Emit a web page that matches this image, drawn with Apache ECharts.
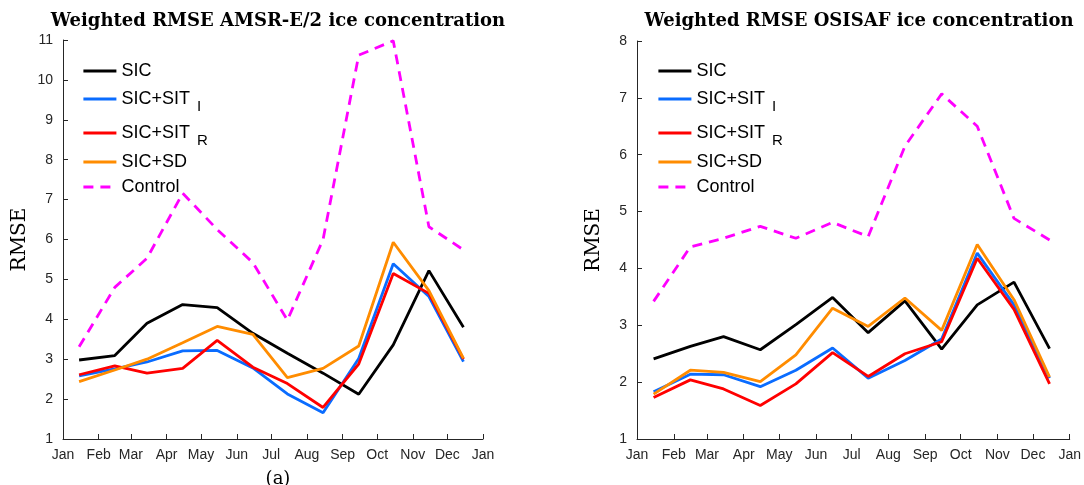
<!DOCTYPE html>
<html>
<head>
<meta charset="utf-8">
<script src="https://cdn.jsdelivr.net/npm/echarts@6/dist/echarts.min.js"></script>
<style>
html,body{margin:0;padding:0;background:#fff;}
#chart{width:1084px;height:485px;}
</style>
</head>
<body>
<div id="chart"></div>
<script>
// Tick labels (month starts) and their day-of-year positions
const monthLabels = ['Jan','Feb','Mar','Apr','May','Jun','Jul','Aug','Sep','Oct','Nov','Dec','Jan'];
const monthStartDays = [0,31,59,90,120,151,181,212,243,273,304,334,365];
// Samples: 15th of each month (day of year)
const sampleDays = [14,45,73,104,134,165,195,226,257,287,318,348];

const seriesNames = ['SIC','SIC+SIT_I','SIC+SIT_R','SIC+SD','Control'];

// Panel (a): AMSR-E/2
const amsrSIC     = [2.98, 3.09, 3.90, 4.37, 4.29, 3.65, 3.15, 2.65, 2.12, 3.36, 5.22, 3.80];
const amsrSIT_I   = [2.58, 2.76, 2.93, 3.21, 3.22, 2.78, 2.13, 1.66, 3.02, 5.39, 4.57, 2.94];
const amsrSIT_R   = [2.61, 2.83, 2.65, 2.77, 3.47, 2.80, 2.39, 1.79, 2.88, 5.15, 4.65, 3.00];
const amsrSD      = [2.44, 2.73, 3.00, 3.41, 3.82, 3.62, 2.54, 2.77, 3.33, 5.93, 4.72, 3.02];
const amsrControl = [3.31, 4.80, 5.53, 7.16, 6.25, 5.42, 3.98, 6.00, 10.62, 10.98, 6.32, 5.74];

// Panel (b): OSISAF
const osiSIC     = [2.41, 2.63, 2.80, 2.57, 3.01, 3.49, 2.87, 3.43, 2.58, 3.36, 3.76, 2.59];
const osiSIT_I   = [1.83, 2.14, 2.13, 1.92, 2.21, 2.60, 2.07, 2.38, 2.76, 4.27, 3.36, 2.07];
const osiSIT_R   = [1.73, 2.04, 1.88, 1.59, 1.97, 2.52, 2.10, 2.50, 2.71, 4.18, 3.28, 1.97];
const osiSD      = [1.79, 2.21, 2.17, 2.01, 2.48, 3.30, 2.98, 3.48, 2.91, 4.42, 3.45, 2.09];
const osiControl = [3.42, 4.38, 4.53, 4.74, 4.53, 4.81, 4.56, 6.15, 7.07, 6.50, 4.88, 4.50];

const titles = ['Weighted RMSE AMSR-E/2 ice concentration', 'Weighted RMSE OSISAF ice concentration'];
const yMax = [11, 8];

const colors = ['#000000', '#0a6cff', '#ff0000', '#ff8c00', '#ff00ff'];
const AX = '#262626';
const sansFont = '"Liberation Sans", Arial, sans-serif';
const serifFont = '"DejaVu Serif", serif';

const panels = [
  [amsrSIC, amsrSIT_I, amsrSIT_R, amsrSD, amsrControl],
  [osiSIC, osiSIT_I, osiSIT_R, osiSD, osiControl]
];

const grids = [
  {left: 63, right: 601, top: 40, bottom: 46},
  {left: 637, right: 12, top: 41, bottom: 46}
];

function pair(vals){ return vals.map((v,i)=>[sampleDays[i], v]); }

const xAxes = grids.map((g,i)=>({
  type:'value', gridIndex:i, min:0, max:365,
  axisLine:{show:true, lineStyle:{color:AX, width:1}},
  axisTick:{show:true, inside:true, length:5, lineStyle:{color:AX}, customValues: monthStartDays},
  axisLabel:{color:AX, fontSize:14, fontFamily:sansFont, margin:9, customValues: monthStartDays,
    formatter:(v)=>monthLabels[monthStartDays.indexOf(v)] || ''},
  splitLine:{show:false}
}));

const yAxes = grids.map((g,i)=>({
  type:'value', gridIndex:i, min:1, max:yMax[i], interval:1,
  name:'RMSE', nameLocation:'middle', nameGap:33,
  nameTextStyle:{fontFamily:serifFont, fontSize:20, color:'#000'},
  axisLine:{show:true, lineStyle:{color:AX, width:1}},
  axisTick:{show:true, inside:true, length:5, lineStyle:{color:AX}},
  axisLabel:{color:AX, fontSize:14, fontFamily:sansFont, margin:10},
  splitLine:{show:false}
}));

const series = [];
panels.forEach((p,pi)=>{
  p.forEach((vals,si)=>{
    series.push({
      type:'line', name:seriesNames[si], xAxisIndex:pi, yAxisIndex:pi,
      data:pair(vals), symbol:'none', showSymbol:false, silent:true, animation:false,
      lineStyle:{color:colors[si], width:2.8, type: si===4 ? [10,7] : 'solid'},
      itemStyle:{color:colors[si]}
    });
  });
});

const legendTops = [62, 90, 124, 153, 178];
const legendLefts = [82, 657];
const legends = [];
legendLefts.forEach(lx=>{
  seriesNames.forEach((n,i)=>{
    legends.push({
      show:true, orient:'vertical', left:lx, top:legendTops[i], padding:0,
      data:[n], itemWidth:33, itemHeight:14, itemGap:0, selectedMode:false,
      itemStyle:{opacity:0, borderWidth:0},
      lineStyle:{width:2.8},
      textStyle:{
        fontFamily:sansFont, fontSize:18, color:'#000',
        rich:{
          m:{fontFamily:sansFont, fontSize:18, color:'#000'},
          s:{fontFamily:sansFont, fontSize:15, color:'#000', padding:[16,0,0,7]}
        }
      },
      formatter:(name)=>{
        const k = name.indexOf('_');
        if(k<0) return name;
        return '{m|'+name.slice(0,k)+'}{s|'+name.slice(k+1)+'}';
      }
    });
  });
});

const titleCenters = [273, 854];
const option = {
  animation:false,
  backgroundColor:'#fff',
  title: titles.map((t,i)=>({
    text:t, left:titleCenters[i], top:7, textAlign:'center',
    textStyle:{fontFamily:serifFont, fontWeight:'bold', fontSize:18, color:'#000'}
  })).concat([{
    text:'(a)', left:273, top:465, textAlign:'center',
    textStyle:{fontFamily:serifFont, fontWeight:'normal', fontSize:18, color:'#000'}
  }]),
  grid: grids,
  xAxis: xAxes,
  yAxis: yAxes,
  legend: legends,
  series: series
};

const chart = echarts.init(document.getElementById('chart'), null, {renderer:'canvas'});
chart.setOption(option);
</script>
</body>
</html>
